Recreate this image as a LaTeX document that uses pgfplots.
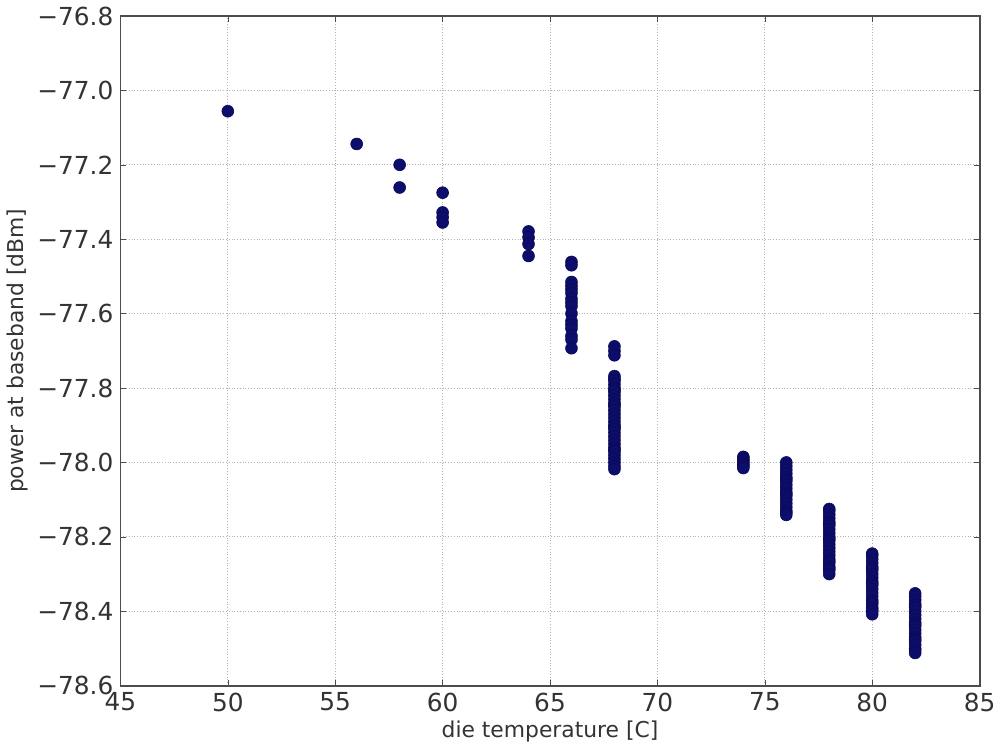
\documentclass[border=0pt]{standalone}
\usepackage{pgfplots}
\pgfplotsset{compat=1.18}
\usepackage{fontspec}
\setmainfont{DejaVu Sans}
\definecolor{dotcol}{rgb}{0.05,0.05,0.42}
\begin{document}
\begin{tikzpicture}
\begin{axis}[
    scale only axis,
    width=433pt, height=337.5pt,
    xmin=45, xmax=85,
    ymin=-78.6, ymax=-76.8,
    xtick={45,50,...,85},
    ytick={-78.6,-78.4,-78.2,-78.0,-77.8,-77.6,-77.4,-77.2,-77.0,-76.8},
    yticklabels={−78.6,−78.4,−78.2,−78.0,−77.8,−77.6,−77.4,−77.2,−77.0,−76.8},
    /pgf/number format/assume math mode=true,
    tick label style={font=\fontsize{12.5}{14}\selectfont, black!80},
    label style={font=\fontsize{11}{13}\selectfont, black!80},
    xlabel={die temperature [C]},
    ylabel={power at baseband [dBm]},
    xlabel style={yshift=2pt},
    ylabel style={yshift=-2pt},
    grid=major,
    grid style={densely dotted, black!30},
    major tick length=3pt,
    tick style={black!70},
    axis line style={black!70, line width=0.9pt},
    tick align=inside,
]
\addplot[only marks, mark=*, mark size=3pt,
    mark options={fill=dotcol, draw=dotcol!80!black, line width=0.3pt}]
coordinates {
(50,-77.056)
(56,-77.144)
(58,-77.200) (58,-77.261)
(60,-77.275) (60,-77.328) (60,-77.341) (60,-77.355)
(64,-77.379) (64,-77.395) (64,-77.413) (64,-77.445)
(66,-77.461) (66,-77.47) (66,-77.515) (66,-77.525) (66,-77.535) (66,-77.545)
(66,-77.56) (66,-77.57) (66,-77.58) (66,-77.60) (66,-77.62) (66,-77.63)
(66,-77.64) (66,-77.66) (66,-77.67) (66,-77.693)
(68,-77.688) (68,-77.70) (68,-77.712) (68,-77.768) (68,-77.775) (68,-77.78)
(68,-77.79) (68,-77.80) (68,-77.805) (68,-77.81) (68,-77.82) (68,-77.83)
(68,-77.84) (68,-77.845) (68,-77.85) (68,-77.86) (68,-77.87) (68,-77.88)
(68,-77.89) (68,-77.90) (68,-77.905) (68,-77.91) (68,-77.92) (68,-77.93)
(68,-77.94) (68,-77.95) (68,-77.96) (68,-77.965) (68,-77.97) (68,-77.98)
(68,-77.99) (68,-78.00) (68,-78.01) (68,-78.018)
(74,-77.985) (74,-77.99) (74,-77.995) (74,-78.00) (74,-78.005) (74,-78.01) (74,-78.015)
(76,-78.00) (76,-78.01) (76,-78.02) (76,-78.03) (76,-78.04) (76,-78.045)
(76,-78.05) (76,-78.06) (76,-78.07) (76,-78.08) (76,-78.085) (76,-78.09)
(76,-78.10) (76,-78.11) (76,-78.12) (76,-78.13) (76,-78.135) (76,-78.141)
(78,-78.125) (78,-78.13) (78,-78.14) (78,-78.15) (78,-78.16) (78,-78.165)
(78,-78.17) (78,-78.18) (78,-78.19) (78,-78.20) (78,-78.205) (78,-78.21)
(78,-78.22) (78,-78.23) (78,-78.24) (78,-78.25) (78,-78.26) (78,-78.265)
(78,-78.27) (78,-78.28) (78,-78.285) (78,-78.29) (78,-78.30)
(80,-78.245) (80,-78.25) (80,-78.26) (80,-78.27) (80,-78.28) (80,-78.285)
(80,-78.29) (80,-78.30) (80,-78.31) (80,-78.32) (80,-78.325) (80,-78.33)
(80,-78.34) (80,-78.35) (80,-78.36) (80,-78.37) (80,-78.375) (80,-78.38)
(80,-78.39) (80,-78.395) (80,-78.40) (80,-78.408)
(82,-78.352) (82,-78.36) (82,-78.37) (82,-78.38) (82,-78.385) (82,-78.39)
(82,-78.40) (82,-78.41) (82,-78.42) (82,-78.43) (82,-78.435) (82,-78.44)
(82,-78.45) (82,-78.46) (82,-78.47) (82,-78.475) (82,-78.48) (82,-78.49)
(82,-78.50) (82,-78.505) (82,-78.512)
};
\end{axis}
\end{tikzpicture}
\end{document}
